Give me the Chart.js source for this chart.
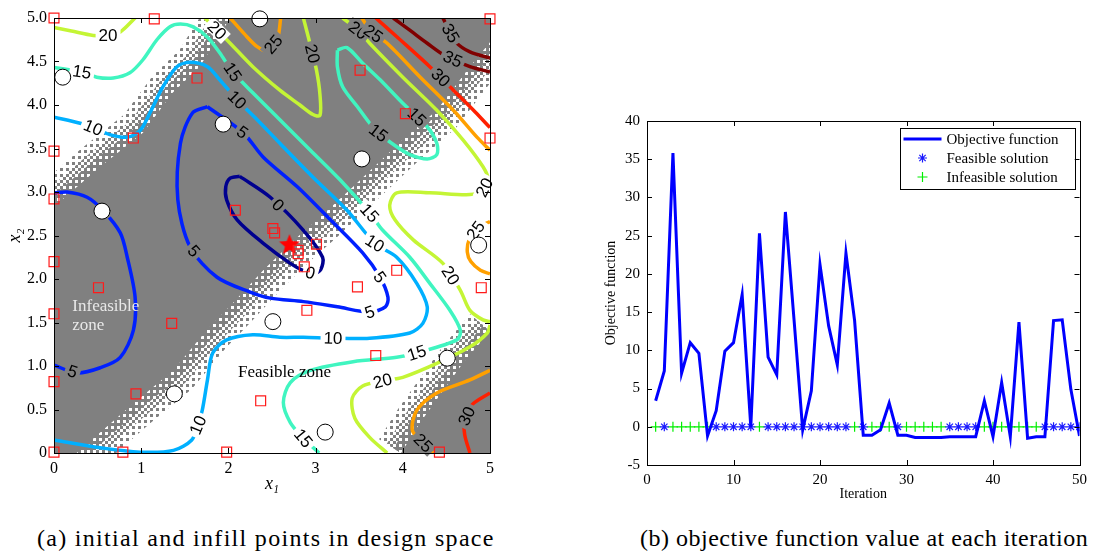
<!DOCTYPE html>
<html>
<head>
<meta charset="utf-8">
<script src="https://cdn.jsdelivr.net/npm/chart.js@4.4.1/dist/chart.umd.min.js"></script>
<style>
  body { margin: 0; background: #fff; }
  #wrap { position: relative; width: 1093px; height: 552px; overflow: hidden; }
  #designChart { position: absolute; left: 0; top: 0; }
  #historyChart { position: absolute; left: 590px; top: 0; }
  .caption { position: absolute; top: 525px; font: 24px "Liberation Serif", serif; white-space: nowrap; color: #000; }
</style>
</head>
<body>
<div id="wrap">
  <canvas id="designChart" width="520" height="500"></canvas>
  <canvas id="historyChart" width="503" height="510"></canvas>
  <div class="caption" style="left:37px; letter-spacing:1.3px">(a) initial and infill points in design space</div>
  <div class="caption" style="left:640px; letter-spacing:0.5px">(b) objective function value at each iteration</div>
</div>
<script>
// ---------- (a) design space ----------
const initialPoints = [[2.36,4.99],[0.10,4.32],[1.94,3.78],[0.55,2.78],[3.53,3.38],[2.51,1.51],[1.38,0.68],[4.87,2.39],[4.51,1.09],[3.11,0.24]];
const infillPoints = [[0,5.0],[1.15,4.99],[1.64,4.31],[0.91,3.62],[0,3.47],[0,2.92],[2.08,2.79],[2.51,2.58],[2.53,2.53],[2.80,2.33],[2.80,2.29],[3.01,2.40],[2.87,2.14],[2.90,1.64],[3.51,4.40],[4.03,3.90],[5,4.99],[5,3.62],[4.90,1.90],[3.93,2.10],[3.48,1.91],[3.69,1.12],[4.42,0.01],[2.37,0.60],[1.98,0.01],[0.79,0.01],[0.94,0.68],[1.35,1.49],[0.51,1.90],[0,2.20],[0,1.60],[0,0.82],[0,0.01]];
const bestPoint = [[2.70,2.39]];

// infeasible zone boundaries
const bandUpperEdge = [[0,2.83],[0.53,3.29],[1.02,3.68],[1.36,4.14],[1.67,4.44],[2.02,5.0]];
const bandLowerEdge = [[0.26,0],[0.91,0.57],[1.37,0.95],[1.75,1.41],[2.05,1.72],[2.40,2.10],[2.79,2.48],[3.02,2.68],[3.43,3.06],[4.0,3.6],[4.39,3.94],[4.77,4.44],[5,4.72]];
const cornerEdge = [[3.98,0],[4.2,0.35],[4.45,0.7],[4.7,1.05],[5,1.4]];

// contour lines of the objective
const contour0 = [[2.13,3.18],[2.48,2.94],[2.86,2.56],[3.08,2.25],[3.06,2.11],[2.98,2.06],[2.87,2.09],[2.71,2.18],[2.40,2.41],[2.10,2.68],[1.98,2.91],[1.97,3.06],[2.02,3.16],[2.13,3.18]];
const contour5a = [[1.76,3.98],[2.17,3.68],[2.40,3.40],[2.79,3.06],[3.17,2.68],[3.54,2.30],[3.74,2.02],[3.83,1.79],[3.80,1.68],[3.62,1.62],[3.25,1.68],[2.86,1.74],[2.48,1.78],[2.25,1.85],[1.87,2.02],[1.56,2.37],[1.42,2.91],[1.45,3.56],[1.59,3.91],[1.76,3.98]];
const contour5b = [[0,2.99],[0.15,3.0],[0.38,2.94],[0.56,2.79],[0.76,2.53],[0.84,2.25],[0.93,1.79],[0.91,1.41],[0.76,1.10],[0.53,0.98],[0.26,0.92],[0,1.01]];
const contour10 = [[0,0.15],[0.53,0.06],[0.99,0.01],[1.37,0.03],[1.58,0.15],[1.65,0.32],[1.70,0.49],[1.76,0.84],[1.82,1.15],[1.98,1.30],[2.28,1.36],[2.59,1.33],[2.86,1.33],[3.20,1.32],[3.62,1.32],[4.08,1.38],[4.23,1.49],[4.28,1.68],[4.16,1.95],[3.93,2.25],[3.68,2.41],[3.36,2.79],[2.97,3.17],[2.59,3.56],[2.33,3.83],[2.10,4.06],[1.90,4.29],[1.76,4.44],[1.56,4.49],[1.41,4.44],[1.25,4.21],[1.10,3.91],[0.99,3.71],[0.84,3.63],[0.64,3.66],[0.45,3.74],[0.30,3.79],[0,3.86]];
const contour15a = [[0,4.43],[0.32,4.38],[0.49,4.32],[0.68,4.31],[0.87,4.37],[1.02,4.52],[1.18,4.75],[1.33,4.90],[1.45,4.93],[1.59,4.90],[1.76,4.78],[1.90,4.60],[2.05,4.38],[2.28,4.14],[2.59,3.83],[2.94,3.48],[3.28,3.14],[3.62,2.76],[3.77,2.56],[4.08,2.25],[4.31,1.95],[4.54,1.64],[4.66,1.41],[4.62,1.30],[4.16,1.15],[3.93,1.10],[3.43,1.05],[2.94,0.95],[2.71,0.81],[2.63,0.58],[2.71,0.35],[2.86,0.17],[3.04,0]];
const contour15b = [[3.25,4.63],[3.36,4.66],[3.54,4.48],[3.74,4.29],[4.00,4.02],[4.28,3.75],[4.39,3.56],[4.39,3.43],[4.28,3.38],[4.08,3.43],[3.93,3.52],[3.72,3.68],[3.62,3.79],[3.48,3.98],[3.31,4.21],[3.25,4.44],[3.25,4.63]];
const contour20a = [[0,4.89],[0.2,4.85],[0.45,4.80],[0.62,4.80],[0.76,4.84],[0.91,4.98],[0.95,5.02]];
const contour20b = [[1.73,5.0],[1.87,4.86],[2.02,4.71],[2.28,4.44],[2.59,4.17],[2.82,4.0],[2.97,3.89],[3.05,3.88],[3.05,4.12],[3.01,4.40],[2.94,4.69],[2.86,5.0]];
const contour20c = [[3.31,5.0],[3.49,4.86],[3.62,4.71],[4.00,4.32],[4.39,3.94],[4.69,3.60],[4.92,3.29],[4.98,3.14],[4.92,3.02],[4.77,2.97],[4.31,2.99],[3.93,2.99],[3.85,2.85],[3.91,2.68],[4.12,2.45],[4.46,2.18],[4.66,1.87],[4.77,1.64],[4.92,1.53],[5.0,1.51]];
const contour20d = [[3.82,0],[3.62,0.18],[3.45,0.40],[3.42,0.63],[3.54,0.77],[3.77,0.83],[4.00,0.87],[4.39,1.03],[4.77,1.22],[4.97,1.38],[5.0,1.47]];
const contour25a = [[2.02,5.0],[2.18,4.82],[2.33,4.67],[2.45,4.62],[2.56,4.75],[2.60,5.0]];
const contour25b = [[3.53,5.0],[3.65,4.83],[3.82,4.71],[4.20,4.32],[4.58,3.94],[4.85,3.63],[5.0,3.48]];
const contour25c = [[5.0,2.66],[4.86,2.59],[4.76,2.45],[4.74,2.31],[4.78,2.20],[4.89,2.10],[5.0,2.06]];
const contour25d = [[5.0,0.95],[4.77,0.84],[4.39,0.69],[4.16,0.49],[4.11,0.26],[4.23,0.12],[4.35,0]];
const contour30a = [[3.69,5.0],[3.97,4.75],[4.31,4.44],[4.58,4.17],[4.83,3.92],[5.0,3.74]];
const contour30b = [[5.0,0.69],[4.79,0.55],[4.71,0.38],[4.71,0.21],[4.77,0]];
const contour35a = [[3.89,5.0],[4.08,4.86],[4.28,4.71],[4.48,4.57],[4.77,4.44],[5.0,4.38]];
const contour35b = [[4.46,5.0],[4.53,4.86],[4.61,4.72],[4.77,4.61],[5.0,4.54]];

const contourLines = [
  [0, contour0], [5, contour5a], [5, contour5b], [10, contour10],
  [15, contour15a], [15, contour15b],
  [20, contour20a], [20, contour20b], [20, contour20c], [20, contour20d],
  [25, contour25a], [25, contour25b], [25, contour25c], [25, contour25d],
  [30, contour30a], [30, contour30b], [35, contour35a], [35, contour35b]
];

// inline contour labels: level, x1, x2
const contourLabels = [
  [20,0.62,4.80],[15,0.32,4.38],[10,0.45,3.74],[20,1.87,4.86],[25,2.51,4.70],[15,2.05,4.38],
  [10,2.10,4.06],[5,2.15,3.67],[20,2.92,4.58],[20,3.49,4.86],[25,3.66,4.82],[35,4.54,4.82],
  [35,4.56,4.50],[30,4.43,4.31],[15,3.72,3.68],[15,4.16,3.86],[20,4.92,3.06],[25,4.86,2.54],
  [0,2.57,2.85],[0,2.94,2.07],[5,1.59,2.31],[15,3.62,2.76],[10,3.68,2.41],[5,3.72,2.01],
  [20,4.56,2.05],[5,3.62,1.62],[10,3.20,1.32],[15,4.16,1.15],[20,3.77,0.82],[5,0.21,0.93],
  [5,0.53,2.74],[10,1.65,0.32],[15,2.86,0.17],[25,4.23,0.11],[30,4.74,0.42]
];
const zoneTexts = [["Infeasible",0.21,1.68,"#e8e8e8"],["zone",0.21,1.46,"#e8e8e8"],["Feasible zone",2.11,0.92,"#000"]];

const designTicksX = [0,1,2,3,4,5];
const designTicksY = [0,0.5,1,1.5,2,2.5,3,3.5,4,4.5,5];

// ---------- (b) iteration history ----------
const iterations = [1,2,3,4,5,6,7,8,9,10,11,12,13,14,15,16,17,18,19,20,21,22,23,24,25,26,27,28,29,30,31,32,33,34,35,36,37,38,39,40,41,42,43,44,45,46,47,48,49,50];
const objectiveValues = [3.4,7.3,35.8,7.0,11.0,9.6,-1.2,2.1,9.9,11.0,17.3,0.0,25.3,9.1,6.8,28.1,14.0,-0.4,4.7,21.2,13.2,8.1,22.7,13.9,-1.1,-1.1,-0.4,3.1,-1.1,-1.1,-1.4,-1.4,-1.4,-1.4,-1.3,-1.3,-1.3,-1.3,3.4,-1.3,5.8,-1.3,13.7,-1.5,-1.3,-1.3,13.9,14.0,4.9,-1.2];
const feasibleIterations = [2,8,9,10,11,12,14,15,16,17,18,19,20,21,22,23,25,29,35,36,37,38,46,47,48,49,50];
const infeasibleIterations = [1,3,4,5,6,7,13,24,26,27,28,30,31,32,33,34,39,40,41,42,43,44,45];
const iterationTicks = [0,10,20,30,40,50];
const objectiveTicks = [-5,0,5,10,15,20,25,30,35,40];

// ---------- styling ----------
const GRAY = '#808080';
const levelColors = {0:'#00008f',5:'#0020ff',10:'#00b0ff',15:'#40f5c0',20:'#c4f535',25:'#ffa000',30:'#ff2000',35:'#800000'};
const serif = '"Liberation Serif", "Times New Roman", serif';

const xy = (arr) => arr.map(([a, b]) => ({x: a, y: b}));

// halftone cells, nested so the layers add up
function makePattern(kind) {
  const c = document.createElement('canvas');
  c.width = 6; c.height = 6;
  const g = c.getContext('2d');
  g.fillStyle = GRAY;
  g.fillRect(0, 0, 3, 3);
  if (kind !== 'sparse') g.fillRect(3, 3, 3, 3);
  if (kind === 'dense') g.fillRect(0, 3, 3, 3);
  return c;
}

function makeStar() {
  const c = document.createElement('canvas');
  c.width = 24; c.height = 24;
  const g = c.getContext('2d');
  g.fillStyle = '#ff0000';
  g.beginPath();
  for (let i = 0; i < 10; i++) {
    const r = i % 2 ? 4.8 : 11;
    const a = -Math.PI / 2 + i * Math.PI / 5;
    g.lineTo(12 + r * Math.cos(a), 12 + r * Math.sin(a));
  }
  g.closePath();
  g.fill();
  return c;
}

const boxTicks = {
  id: 'boxTicks',
  afterDraw(chart, args, opts) {
    const {ctx, chartArea: a, scales: {x, y}} = chart;
    const len = opts.len || 5;
    ctx.save();
    ctx.strokeStyle = '#000';
    ctx.lineWidth = 1;
    ctx.beginPath();
    x.ticks.forEach(t => {
      const p = Math.round(x.getPixelForValue(t.value)) + 0.5;
      ctx.moveTo(p, a.bottom); ctx.lineTo(p, a.bottom - len);
      ctx.moveTo(p, a.top); ctx.lineTo(p, a.top + len);
    });
    y.ticks.forEach(t => {
      const p = Math.round(y.getPixelForValue(t.value)) + 0.5;
      ctx.moveTo(a.left, p); ctx.lineTo(a.left + len, p);
      ctx.moveTo(a.right, p); ctx.lineTo(a.right - len, p);
    });
    ctx.stroke();
    ctx.strokeRect(Math.round(a.left) + 0.5, Math.round(a.top) + 0.5,
                   Math.round(a.right - a.left), Math.round(a.bottom - a.top));
    ctx.restore();
  }
};

// gray infeasible zones with halftone edge
const zones = {
  id: 'zones',
  beforeDatasetsDraw(chart) {
    const {ctx, chartArea: a, scales: {x, y}} = chart;
    const P = ([u, v]) => [x.getPixelForValue(u), y.getPixelForValue(v)];
    const poly = (pts, path) => pts.forEach((p, i) => {
      const [px, py] = P(p);
      i ? path.lineTo(px, py) : path.moveTo(px, py);
    });
    ctx.save();
    ctx.beginPath();
    ctx.rect(a.left, a.top, a.right - a.left, a.bottom - a.top);
    ctx.clip();
    ctx.lineJoin = 'round';
    [['sparse', 52], ['medium', 34], ['dense', 18]].forEach(([kind, w]) => {
      ctx.strokeStyle = ctx.createPattern(makePattern(kind), 'repeat');
      ctx.lineWidth = w;
      [bandUpperEdge, bandLowerEdge, cornerEdge].forEach(edge => {
        const path = new Path2D();
        poly(edge, path);
        ctx.stroke(path);
      });
    });
    const gray = new Path2D();
    poly([[0, 0], ...bandLowerEdge, [5, 5], ...bandUpperEdge.slice().reverse()], gray);
    gray.closePath();
    poly([...cornerEdge, [5, 0]], gray);
    gray.closePath();
    ctx.fillStyle = GRAY;
    ctx.fill(gray);
    ctx.restore();
    chart.$grayPath = gray;
  }
};

function nearestOnLevel(chart, level, px, py) {
  let best = null;
  chart.data.datasets.forEach((ds, i) => {
    if (ds.level !== level) return;
    const pts = chart.getDatasetMeta(i).data;
    for (let k = 0; k < pts.length - 1; k++) {
      const a = pts[k], b = pts[k + 1];
      const dx = b.x - a.x, dy = b.y - a.y;
      const L = dx * dx + dy * dy || 1;
      const t = Math.max(0, Math.min(1, ((px - a.x) * dx + (py - a.y) * dy) / L));
      const qx = a.x + t * dx, qy = a.y + t * dy;
      const d = (qx - px) ** 2 + (qy - py) ** 2;
      if (!best || d < best.d) best = {d, x: qx, y: qy, ang: Math.atan2(dy, dx)};
    }
  });
  return best;
}

const FIRST_CONTOUR = 3;
const contourText = {
  id: 'contourText',
  afterDatasetDraw(chart, args) {
    if (args.index !== FIRST_CONTOUR) return;
    const {ctx, scales: {x, y}} = chart;
    ctx.save();
    ctx.font = '17px "Liberation Sans", Arial, sans-serif';
    ctx.textAlign = 'center';
    ctx.textBaseline = 'middle';
    contourLabels.forEach(([lev, u, v]) => {
      const hit = nearestOnLevel(chart, lev, x.getPixelForValue(u), y.getPixelForValue(v));
      if (!hit) return;
      let ang = hit.ang;
      if (ang > Math.PI / 2) ang -= Math.PI;
      if (ang < -Math.PI / 2) ang += Math.PI;
      const inGray = chart.$grayPath && ctx.isPointInPath(chart.$grayPath, hit.x, hit.y);
      const txt = String(lev);
      const w = ctx.measureText(txt).width + 6;
      ctx.save();
      ctx.translate(hit.x, hit.y);
      ctx.rotate(ang);
      ctx.fillStyle = inGray ? GRAY : '#fff';
      ctx.fillRect(-w / 2, -7, w, 14);
      ctx.fillStyle = '#000';
      ctx.fillText(txt, 0, 1);
      ctx.restore();
    });
    ctx.restore();
  },
  afterDatasetsDraw(chart) {
    const {ctx, scales: {x, y}} = chart;
    ctx.save();
    ctx.font = '17px ' + serif;
    ctx.textBaseline = 'middle';
    zoneTexts.forEach(([t, u, v, c]) => {
      ctx.fillStyle = c;
      ctx.fillText(t, x.getPixelForValue(u), y.getPixelForValue(v));
    });
    ctx.restore();
  }
};

const designDatasets = [
  {data: xy(initialPoints), pointStyle: 'circle', pointRadius: 8, backgroundColor: '#fff', borderColor: '#000', borderWidth: 1, clip: false},
  {data: xy(infillPoints), pointStyle: 'rect', pointRadius: 7, backgroundColor: 'rgba(0,0,0,0)', borderColor: '#ff1a1a', borderWidth: 1.2, clip: false},
  {data: xy(bestPoint), pointStyle: makeStar(), pointRadius: 11, clip: false}
];
contourLines.forEach(([lev, pts]) => designDatasets.push({
  level: lev, data: xy(pts), showLine: true, pointRadius: 0, borderColor: levelColors[lev],
  borderWidth: 3.5, tension: 0.3
}));

new Chart(document.getElementById('designChart'), {
  type: 'scatter',
  data: {datasets: designDatasets},
  plugins: [zones, contourText, boxTicks],
  options: {
    responsive: false, animation: false, events: [],
    layout: {padding: {top: 18, right: 30, left: 0, bottom: 0}},
    plugins: {legend: {display: false}, tooltip: {enabled: false}, boxTicks: {len: 5}},
    scales: {
      x: {
        type: 'linear', min: designTicksX[0], max: designTicksX[designTicksX.length - 1],
        afterBuildTicks: s => { s.ticks = designTicksX.map(v => ({value: v})); },
        afterFit: s => { s.height = 47; },
        grid: {display: false, drawTicks: false}, border: {display: false},
        ticks: {font: {family: serif, size: 16}, color: '#000', padding: 6, maxRotation: 0},
        title: {display: true, text: 'x\u2081', font: {family: serif, size: 18, style: 'italic'}, color: '#000', padding: {top: 0, bottom: 5}}
      },
      y: {
        type: 'linear', min: designTicksY[0], max: designTicksY[designTicksY.length - 1],
        afterBuildTicks: s => { s.ticks = designTicksY.map(v => ({value: v})); },
        afterFit: s => { s.width = 54; },
        grid: {display: false, drawTicks: false}, border: {display: false},
        ticks: {font: {family: serif, size: 16}, color: '#000', padding: 7},
        title: {display: true, text: 'x\u2082', font: {family: serif, size: 18, style: 'italic'}, color: '#000', padding: {top: 4, bottom: 0}}
      }
    }
  }
});

// ---------- (b) chart ----------
const legendBox = {
  id: 'legendBox',
  afterDraw(chart) {
    const {ctx, chartArea: a} = chart;
    const w = 175, h = 61;
    const x0 = a.right - 5 - w, y0 = a.top + 7;
    ctx.save();
    ctx.fillStyle = '#fff';
    ctx.fillRect(x0, y0, w, h);
    ctx.strokeStyle = '#000';
    ctx.lineWidth = 1;
    ctx.strokeRect(Math.round(x0) + 0.5, Math.round(y0) + 0.5, w, h);
    ctx.font = '15px ' + serif;
    ctx.textBaseline = 'middle';
    chart.data.datasets.forEach((ds, i) => {
      const cy = y0 + 11 + i * 19;
      ctx.strokeStyle = ds.borderColor;
      ctx.lineWidth = ds.borderWidth;
      if (ds.showLine) {
        ctx.beginPath(); ctx.moveTo(x0 + 4, cy); ctx.lineTo(x0 + 42, cy); ctx.stroke();
      } else {
        Chart.helpers.drawPoint(ctx, {pointStyle: ds.pointStyle, radius: ds.pointRadius, borderWidth: ds.borderWidth, rotation: 0}, x0 + 23, cy);
      }
      ctx.fillStyle = '#000';
      ctx.fillText(ds.label, x0 + 47, cy + 1);
    });
    ctx.restore();
  }
};

new Chart(document.getElementById('historyChart'), {
  type: 'scatter',
  data: {
    datasets: [
      {label: 'Objective function', data: iterations.map((it, i) => ({x: it, y: objectiveValues[i]})),
       showLine: true, pointRadius: 0, borderColor: '#0000ff', borderWidth: 3, tension: 0},
      {label: 'Feasible solution', data: feasibleIterations.map(it => ({x: it, y: 0})),
       pointStyle: 'star', pointRadius: 4.5, borderColor: '#1a1aff', backgroundColor: '#1a1aff', borderWidth: 1.2},
      {label: 'Infeasible solution', data: infeasibleIterations.map(it => ({x: it, y: 0})),
       pointStyle: 'cross', pointRadius: 5, borderColor: '#00ee00', backgroundColor: '#00ee00', borderWidth: 1.2}
    ]
  },
  plugins: [boxTicks, legendBox],
  options: {
    responsive: false, animation: false, events: [],
    layout: {padding: {top: 121, right: 10, left: 0, bottom: 0}},
    plugins: {legend: {display: false}, tooltip: {enabled: false}, boxTicks: {len: 5}},
    scales: {
      x: {
        type: 'linear', min: iterationTicks[0], max: iterationTicks[iterationTicks.length - 1],
        afterBuildTicks: s => { s.ticks = iterationTicks.map(v => ({value: v})); },
        afterFit: s => { s.height = 45; },
        grid: {display: false, drawTicks: false}, border: {display: false},
        ticks: {font: {family: serif, size: 15}, color: '#000', padding: 6, maxRotation: 0},
        title: {display: true, text: 'Iteration', font: {family: serif, size: 14}, color: '#000', padding: {top: 0, bottom: 7}}
      },
      y: {
        type: 'linear', min: objectiveTicks[0], max: objectiveTicks[objectiveTicks.length - 1],
        afterBuildTicks: s => { s.ticks = objectiveTicks.map(v => ({value: v})); },
        afterFit: s => { s.width = 57; },
        grid: {display: false, drawTicks: false}, border: {display: false},
        ticks: {font: {family: serif, size: 15}, color: '#000', padding: 7},
        title: {display: true, text: 'Objective function', font: {family: serif, size: 14}, color: '#000', padding: {top: 13, bottom: 0}}
      }
    }
  }
});
</script>
</body>
</html>
